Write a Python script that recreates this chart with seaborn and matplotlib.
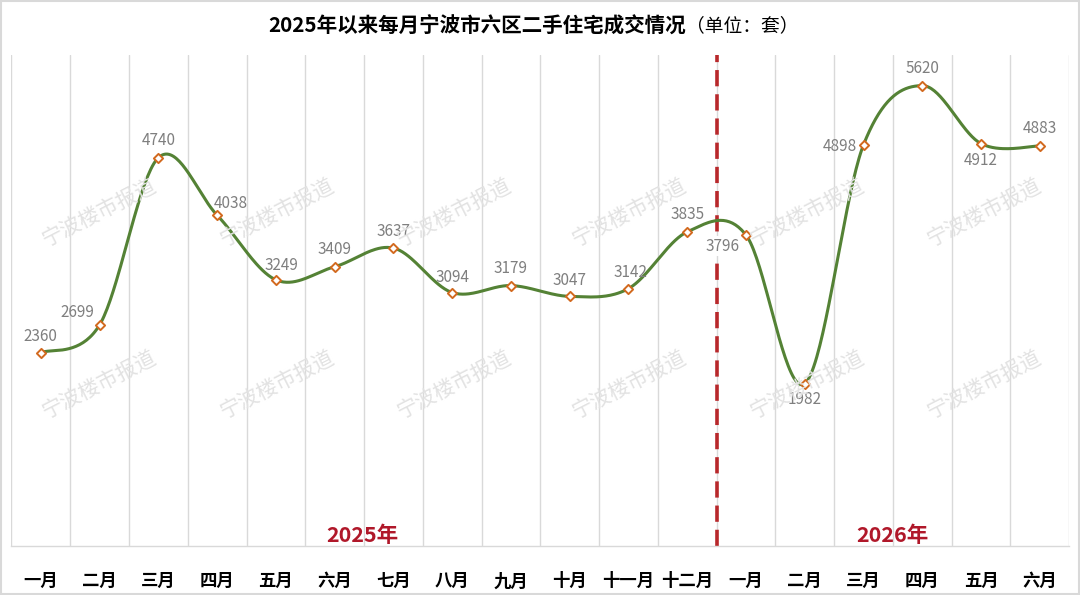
import numpy as np
import pandas as pd
import matplotlib.pyplot as plt
from matplotlib.patches import Rectangle
import seaborn as sns

# 数据
months = ['一月', '二月', '三月', '四月', '五月', '六月', '七月', '八月', '九月',
          '十月', '十一月', '十二月', '一月', '二月', '三月', '四月', '五月', '六月']
deals = [2360, 2699, 4740, 4038, 3249, 3409, 3637, 3094, 3179,
         3047, 3142, 3835, 3796, 1982, 4898, 5620, 4912, 4883]
years = ['2025年', '2026年']
title = '2025年以来每月宁波市六区二手住宅成交情况'
unit = '（单位：套）'
watermark = '宁波楼市报道'

# 数据标签偏移 (像素)
label_offsets = [(0, 16), (-22, 12), (0, 17), (14, 12), (6, 14), (0, 17),
                 (0, 17), (0, 15), (0, 17), (0, 16), (2, 16), (0, 17),
                 (-23, -11), (0, -16), (-24, -2), (0, 17), (0, -17), (0, 17)]

sns.set_style('white')
plt.rcParams['font.family'] = ['Noto Sans CJK SC', 'DejaVu Sans']

df = pd.DataFrame({'pos': np.arange(len(deals)), 'deals': deals})

# 平滑曲线 (Catmull-Rom, 类似 Excel 的平滑线)
pts = df[['pos', 'deals']].to_numpy(dtype=float)
ext = np.vstack([pts[0], pts, pts[-1]])
sx, sy = [], []
t = np.linspace(0, 1, 40)
for i in range(len(pts) - 1):
    p0, p1, p2, p3 = ext[i], ext[i + 1], ext[i + 2], ext[i + 3]
    m1 = (p2 - p0) / 2
    m2 = (p3 - p1) / 2
    h00 = 2 * t**3 - 3 * t**2 + 1
    h10 = t**3 - 2 * t**2 + t
    h01 = -2 * t**3 + 3 * t**2
    h11 = t**3 - t**2
    seg = (np.outer(h00, p1) + np.outer(h10, m1) + np.outer(h01, p2) + np.outer(h11, m2))
    sx.extend(seg[:, 0])
    sy.extend(seg[:, 1])
smooth = pd.DataFrame({'x': sx, 'y': sy})

fig = plt.figure(figsize=(10.8, 5.95), dpi=100)
ax = fig.add_axes([0.0106, 0.0824, 0.9794, 0.826])

# 竖向网格
for b in np.arange(-0.5, len(deals), 1.0):
    ax.axvline(b, color='#D9D9D9', lw=1, zorder=0)

# 水印
for wx in [100, 278, 455, 630, 808, 985]:
    for wy in [213, 385]:
        fig.text(wx / 1080, 1 - wy / 595, watermark, rotation=27, ha='center', va='center',
                 fontsize=15, color='#E2E2E2', zorder=1)

# 分隔虚线
ax.axvline(11.5, color='#B8282B', lw=2.6, ls=(0, (4.5, 2.2)), zorder=2)

sns.lineplot(data=smooth, x='x', y='y', sort=False, color='#548235', lw=2.2, ax=ax, zorder=3)
sns.scatterplot(data=df, x='pos', y='deals', marker='D', s=22, color='white',
                edgecolor='#D2691E', linewidth=1.4, ax=ax, zorder=4)

for (i, v), (dx, dy) in zip(enumerate(deals), label_offsets):
    ha = 'center'
    box = None
    z = 5
    if dx < -15:
        ha = 'right'
        dx = dx + 17
    if i == 12:
        box = dict(boxstyle='square,pad=0.1', fc='white', ec='none')
        z = 2.5
    ax.annotate(str(v), (i, v), xytext=(dx * 0.72, dy * 0.72), textcoords='offset points',
                ha=ha, va='center', fontsize=11, color='#7F7F7F', zorder=z, bbox=box)

ax.set_xlim(-0.5, len(deals) - 0.5)
ax.set_ylim(0, 6000)
ax.set_xticks(range(len(months)))
ax.set_xticklabels(months, fontsize=12.5, fontweight='bold', color='black')
ax.tick_params(axis='x', length=0, pad=19)
ax.set_yticks([])
ax.set_xlabel('')
ax.set_ylabel('')
for s in ['top', 'left', 'right']:
    ax.spines[s].set_visible(False)
ax.spines['bottom'].set_color('#D9D9D9')
ax.spines['bottom'].set_linewidth(1)

# 年份标注
ax.text(5.48, 0.022, years[0], transform=ax.get_xaxis_transform(), ha='center', va='center',
        fontsize=15.5, fontweight='bold', color='#B0182A')
ax.text(14.5, 0.022, years[1], transform=ax.get_xaxis_transform(), ha='center', va='center',
        fontsize=15.5, fontweight='bold', color='#B0182A')

# 标题
fig.text(686 / 1080, 1 - 26 / 595, title, ha='right', va='center', fontsize=14.8,
         fontweight='bold', color='black')
fig.text(686 / 1080, 1 - 26 / 595, unit, ha='left', va='center', fontsize=13.5, color='black')

fig.patches.append(Rectangle((0.001, 0.002), 0.998, 0.996, transform=fig.transFigure,
                             fill=False, edgecolor='#D9D9D9', lw=1.5))

fig.savefig('out.png', dpi=100)
